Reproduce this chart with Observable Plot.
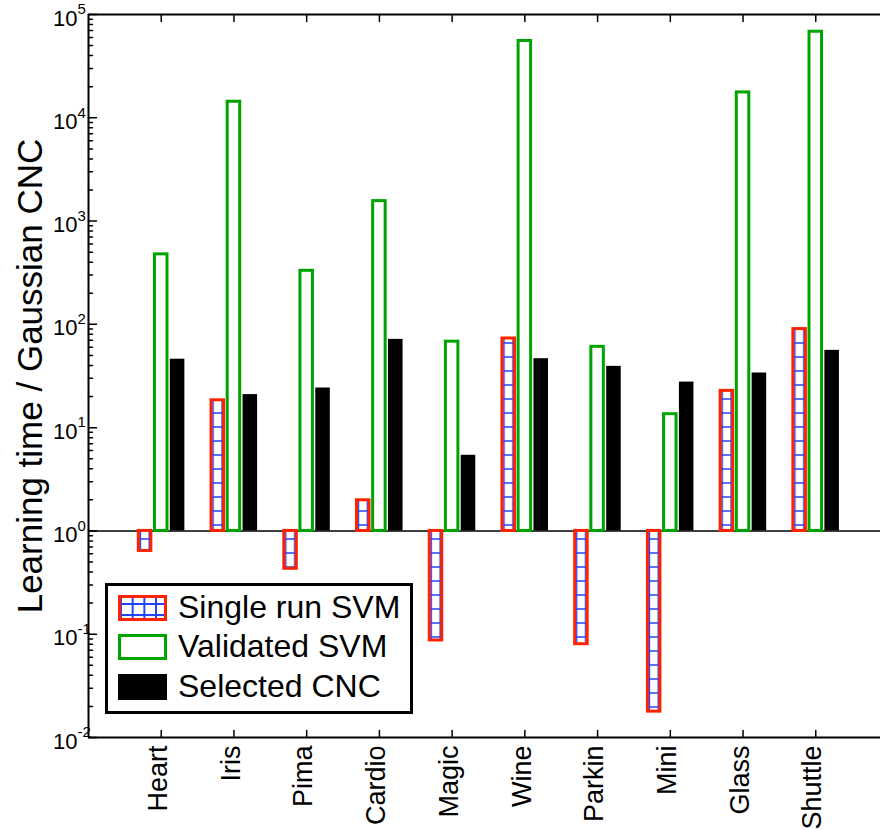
<!DOCTYPE html>
<html>
<head>
<meta charset="utf-8">
<script src="https://cdn.jsdelivr.net/npm/d3@7"></script>
<script src="https://cdn.jsdelivr.net/npm/@observablehq/plot@0.6"></script>
<style>
  html, body { margin: 0; padding: 0; background: #fff; overflow: hidden; }
  #wrap { position: relative; width: 880px; height: 830px; overflow: hidden; font-family: "Liberation Sans", Arial, sans-serif; }
  #wrap svg { display: block; }
  .legend { position: absolute; left: 105px; top: 583px; width: 308px; height: 131px; border: 3px solid #000; background: #fff; box-sizing: border-box; }
  .row { position: absolute; left: 0; height: 26px; width: 100%; }
  .patch { position: absolute; left: 10px; top: 0; width: 49px; height: 26px; box-sizing: border-box; }
  .label { position: absolute; left: 70px; top: 50%; transform: translateY(-53%); font-size: 32px; line-height: 1; white-space: nowrap; color: #000; }
  .p-single { border: 3px solid #ff2200; background-color: #fff;
    background-image: linear-gradient(to right, #2244ff 2px, transparent 2px), linear-gradient(to bottom, #2244ff 2px, transparent 2px);
    background-size: 11.7px 11px; background-position: -1px 5px; }
  .p-valid { border: 3px solid #00a400; background: #fff; }
  .p-cnc { background: #000; }
</style>
</head>
<body>
<div id="wrap"></div>
<script>
// ---- data ----
const categories = ["Heart", "Iris", "Pima", "Cardio", "Magic", "Wine", "Parkin", "Mini", "Glass", "Shuttle"];
const singleRunSVM = [0.64, 18.4, 0.43, 1.98, 0.087, 73, 0.080, 0.0178, 22.7, 90];
const validatedSVM = [476, 14300, 330, 1560, 68, 55400, 60.6, 13.5, 17600, 68100];
const selectedCNC = [46, 20.9, 24.2, 71.6, 5.4, 46.5, 39.2, 27.6, 33.8, 56];
const seriesNames = ["Single run SVM", "Validated SVM", "Selected CNC"];
const yTickExponents = [-2, -1, 0, 1, 2, 3, 4, 5];
const yLabel = "Learning time / Gaussian CNC";

// ---- derived tables ----
const rows = categories.map((c, i) => ({
  cat: c, pos: i + 1,
  single: singleRunSVM[i], valid: validatedSVM[i], cnc: selectedCNC[i]
}));
const majorTicks = yTickExponents.map(e => 10 ** e);
const minorTicks = [];
for (const e of yTickExponents.slice(0, -1)) for (let m = 2; m <= 9; m++) minorTicks.push(m * 10 ** e);

const RED = "#ff2200", GREEN = "#00a400", BLUE = "#2244ff";
const off = 0.222;          // series offset inside a category (category units)
const hwStroke = 0.086;     // half width of outlined bars
const hwFill = 0.1;         // half width of filled bar

const tickLine = () => ({
  draw(ctx, l) { ctx.moveTo(0, 0); ctx.lineTo(0, -l); }
});

const chart = Plot.plot({
  width: 880,
  height: 830,
  marginLeft: 88,
  marginTop: 14,
  marginBottom: 93,
  marginRight: 0,
  style: { fontFamily: "'Liberation Sans', Arial, sans-serif", background: "#fff", overflow: "hidden", color: "#000" },
  x: { type: "linear", domain: [0, 11], range: [88, 888], axis: null },
  y: { type: "log", domain: [1e-2, 1e5], range: [737, 14], axis: null },
  marks: [
    // baseline at 10^0
    Plot.ruleY([1], { x1: 0, x2: 11, stroke: "#000", strokeWidth: 1.5 }),
    // Single run SVM (hatched)
    Plot.rect(rows, {
      x1: d => d.pos - off - hwStroke, x2: d => d.pos - off + hwStroke,
      y1: 1, y2: d => d.single,
      fill: "url(#svmHatch)", stroke: RED, strokeWidth: 3
    }),
    // Validated SVM (outlined)
    Plot.rect(rows, {
      x1: d => d.pos - hwStroke, x2: d => d.pos + hwStroke,
      y1: 1, y2: d => d.valid,
      fill: "#fff", stroke: GREEN, strokeWidth: 3
    }),
    // Selected CNC (filled)
    Plot.rect(rows, {
      x1: d => d.pos + off + 0.003 - hwFill, x2: d => d.pos + off + 0.003 + hwFill,
      y1: 1, y2: d => d.cnc,
      fill: "#000"
    }),
    // frame: top, bottom, left
    Plot.ruleY([1e5, 1e-2], { x1: 0, x2: 11, stroke: "#000", strokeWidth: 2 }),
    Plot.ruleX([0], { y1: 1e-2, y2: 1e5, stroke: "#000", strokeWidth: 2 }),
    // left ticks (inward)
    Plot.vector(majorTicks, { x: 0, y: d => d, rotate: 90, length: 8, anchor: "start", shape: tickLine(), stroke: "#000", strokeWidth: 1.5 }),
    Plot.vector(minorTicks, { x: 0, y: d => d, rotate: 90, length: 4, anchor: "start", shape: tickLine(), stroke: "#000", strokeWidth: 1.5 }),
    // category ticks top (down) and bottom (up)
    Plot.vector(rows, { x: "pos", y: 1e5, rotate: 180, length: 7, anchor: "start", shape: tickLine(), stroke: "#000", strokeWidth: 1.5 }),
    Plot.vector(rows, { x: "pos", y: 1e-2, rotate: 0, length: 7, anchor: "start", shape: tickLine(), stroke: "#000", strokeWidth: 1.5 }),
    // y tick labels: 10 with superscript exponent
    Plot.text(yTickExponents, { x: 0, y: e => 10 ** e, text: () => "10", textAnchor: "end", lineAnchor: "middle", dx: -11, dy: 4, fontSize: 22, fill: "#000" }),
    Plot.text(yTickExponents, { x: 0, y: e => 10 ** e, text: e => String(e), textAnchor: "start", lineAnchor: "middle", dx: -11, dy: -5, fontSize: 15, fill: "#000" }),
    // x tick labels (rotated)
    Plot.text(rows, { x: "pos", y: 1e-2, text: "cat", rotate: -90, textAnchor: "end", lineAnchor: "middle", dy: 8, dx: -3, fontSize: 27, fill: "#000" }),
    // y axis label
    Plot.text([yLabel], { frameAnchor: "left", rotate: -90, textAnchor: "middle", lineAnchor: "middle", dx: -58, fontSize: 35, fill: "#000" })
  ]
});

// hatch pattern for the single-run bars
const defs = d3.select(chart).insert("defs", ":first-child");
const pw = 800 / 11 / 8; // pattern width aligned with the category step
const pat = defs.append("pattern")
  .attr("id", "svmHatch").attr("patternUnits", "userSpaceOnUse")
  .attr("width", pw).attr("height", 14);
pat.append("rect").attr("width", pw).attr("height", 14).attr("fill", "#fff");
pat.append("path")
  .attr("d", `M3.9,0V14M0,7H${pw}`)
  .attr("stroke", BLUE).attr("stroke-width", 1.6).attr("fill", "none");

const wrap = document.getElementById("wrap");
wrap.appendChild(chart);

// legend inside the axes (lower-left)
const legend = document.createElement("div");
legend.className = "legend";
const classes = ["p-single", "p-valid", "p-cnc"];
const tops = [9, 48, 88];
seriesNames.forEach((name, i) => {
  const row = document.createElement("div");
  row.className = "row";
  row.style.top = tops[i] + "px";
  const patch = document.createElement("div");
  patch.className = "patch " + classes[i];
  const lab = document.createElement("div");
  lab.className = "label";
  lab.textContent = name;
  row.appendChild(patch);
  row.appendChild(lab);
  legend.appendChild(row);
});
wrap.appendChild(legend);
</script>
</body>
</html>
